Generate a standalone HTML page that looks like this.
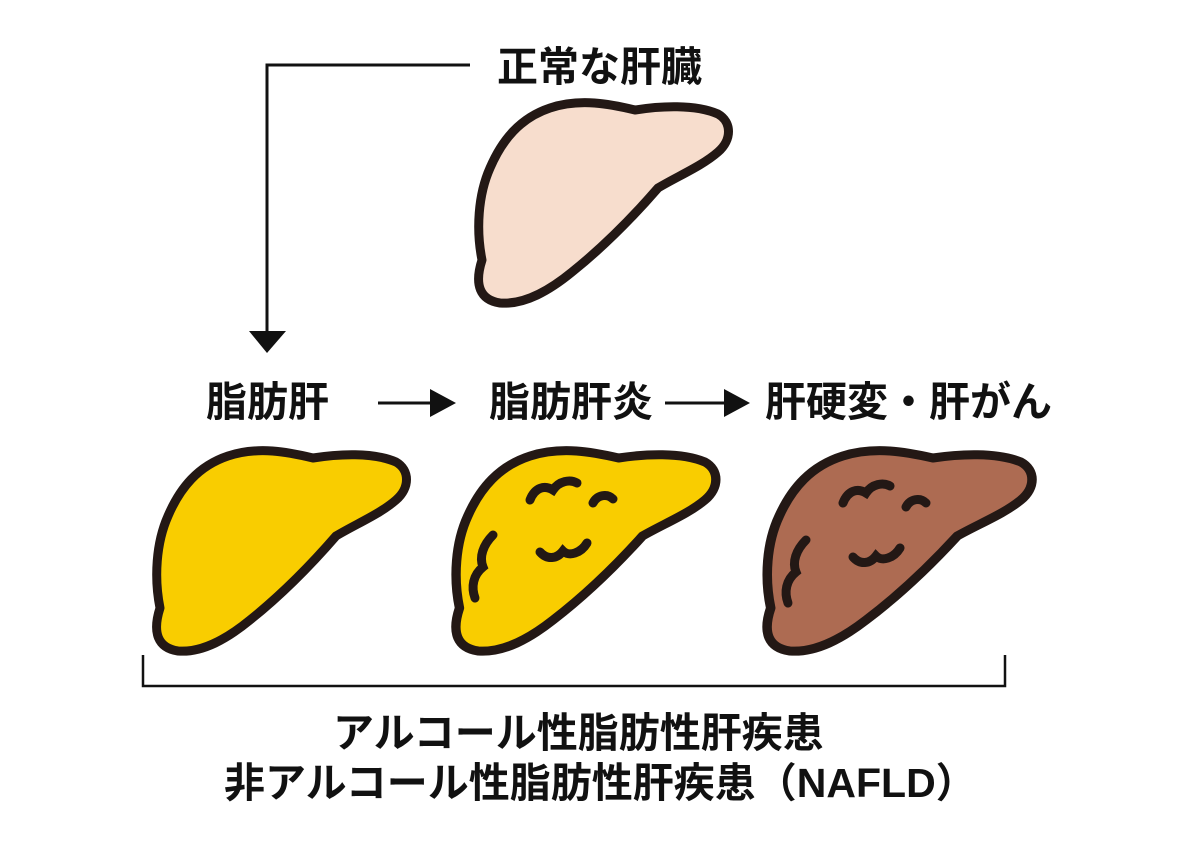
<!DOCTYPE html>
<html><head><meta charset="utf-8"><style>
html,body{margin:0;padding:0;background:#fff}
body{width:1200px;height:848px;position:relative;overflow:hidden;font-family:"Liberation Sans","Noto Sans CJK JP",sans-serif;font-weight:bold;color:#111}
.t{position:absolute;white-space:nowrap;line-height:1}
</style></head><body>
<svg width="1200" height="848" style="position:absolute;left:0;top:0">
<defs>
<path id="liv" d="M12,160 C6,130 8,95 20,68 C32,40 50,18 80,8 C110,-2 140,4 165,10 C190,6 225,4 248,14 C262,22 262,40 248,52 C232,66 208,76 188,88 C162,118 132,148 102,172 C80,190 55,205 30,203 C10,200 4,185 12,160 Z"/>
</defs>
<g fill="none" stroke="#111" stroke-width="3">
<polyline points="470,65 267,65 267,332"/>
<line x1="378" y1="403" x2="432" y2="403"/>
<line x1="665" y1="403" x2="728" y2="403"/>
<polyline points="143,655 143,686 1005,686 1005,655" stroke-width="2.5"/>
</g>
<g fill="#111">
<polygon points="249,331 286,331 267,353"/>
<polygon points="430,389 430,417 456,403"/>
<polygon points="724,389 724,417 750,403"/>
</g>
<g stroke="#231815" stroke-width="9" stroke-linejoin="round">
<use href="#liv" transform="translate(470,100)" fill="#F7DDCD"/>
<use href="#liv" transform="translate(148,448)" fill="#F9CD00"/>
<use href="#liv" transform="translate(447,448) scale(1.04,1)" fill="#F9CD00"/>
<use href="#liv" transform="translate(758,448) scale(1.06,1)" fill="#AD6B52"/>
</g>
<g fill="none" stroke="#231815" stroke-width="9" stroke-linecap="round">
<g transform="translate(445,445)">
<path d="M85,55 C90,42 100,40 108,45 C114,36 125,34 132,38"/>
<path d="M148,58 C152,50 162,48 168,54"/>
<path d="M48,90 C38,100 34,112 38,122 C28,130 26,142 30,153"/>
<path d="M95,107 C102,115 112,114 118,106 C124,112 136,108 142,98"/>
</g>
<g transform="translate(758,445)">
<path d="M85,58 C90,45 100,43 108,48 C114,39 125,37 132,41"/>
<path d="M148,62 C152,54 162,52 168,58"/>
<path d="M48,95 C38,105 34,117 38,127 C28,135 26,147 30,158"/>
<path d="M95,112 C102,120 112,119 118,111 C124,117 136,113 142,103"/>
</g>
</g>
</svg>
<div class="t" style="left:497px;top:47px;font-size:41px">正常な肝臓</div>
<div class="t" style="left:206px;top:382px;font-size:41px">脂肪肝</div>
<div class="t" style="left:489px;top:382px;font-size:41px">脂肪肝炎</div>
<div class="t" style="left:765px;top:382px;font-size:41px">肝硬変・肝がん</div>
<div class="t" style="left:333px;top:713px;font-size:41px">アルコール性脂肪性肝疾患</div>
<div class="t" style="left:224px;top:763px;font-size:41px">非アルコール性脂肪性肝疾患（NAFLD）</div>
</body></html>
